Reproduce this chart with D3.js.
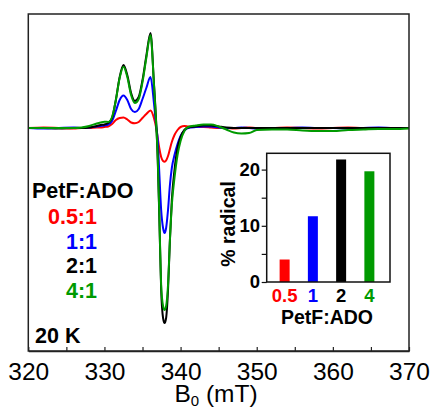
<!DOCTYPE html>
<html>
<head>
<meta charset="utf-8">
<script src="https://cdn.jsdelivr.net/npm/d3@7"></script>
<style>
  body { margin: 0; background: #fff; }
  svg { display: block; font-family: "Liberation Sans", Arial, sans-serif; }
</style>
</head>
<body>
<svg id="chart" width="433" height="409"></svg>
<script>
// field axis (mT), shared by all spectra
const field = [320,322,324,326,327,328,329,329.5,330,330.5,331,331.5,332,332.5,333,333.5,334,334.5,335,335.5,336.05,336.5,336.8,337,337.2,337.45,337.7,337.9,338.1,338.35,338.6,338.85,339.2,339.6,340,340.5,341,342,343,344,345,346,347,348,349,350,352,354,356,358,360,362,364,366,368,370];

// EPR intensity (a.u.) for each PetF:ADO ratio
const red05 = [0,0.005,0,-0.005,0,0,0.005,0.005,0.01,0.015,0.04,0.08,0.10,0.105,0.085,0.055,0.047,0.06,0.10,0.14,0.175,0.10,0,-0.10,-0.20,-0.29,-0.33,-0.337,-0.325,-0.28,-0.21,-0.14,-0.07,-0.02,0.01,0.02,0.015,0.01,0.01,0.005,0,0,-0.005,0,0.005,0,0,0.005,0,-0.005,0,0.005,0,0,0,0];
const blue1 = [0,-0.005,0,0.005,0,0.005,0.015,0.02,0.025,0.035,0.07,0.17,0.28,0.325,0.28,0.19,0.16,0.19,0.29,0.40,0.51,0.25,0.02,-0.12,-0.44,-0.82,-1.00,-1.05,-1.00,-0.82,-0.57,-0.40,-0.27,-0.16,-0.08,-0.025,0,0.01,0.015,0.015,0.005,0,0,0.005,0,-0.005,0,0,0.005,0,0,-0.005,0,0.005,0,0];
const black2 = [0,0,-0.005,0,0,0.005,0.02,0.03,0.035,0.05,0.10,0.28,0.51,0.63,0.53,0.35,0.27,0.31,0.48,0.72,0.95,0.45,0.05,-0.32,-0.87,-1.62,-1.90,-1.95,-1.90,-1.62,-1.12,-0.72,-0.42,-0.20,-0.09,-0.02,0.005,0.015,0.025,0.025,0.015,0.005,0,0,0,0,0,0,0,0,0,0,0,0,0,0];
const green4 = [0,0,0,0,0.005,0.02,0.045,0.055,0.063,0.06,0.11,0.28,0.50,0.613,0.51,0.33,0.25,0.29,0.46,0.70,0.93,0.44,0.04,-0.30,-0.84,-1.57,-1.78,-1.82,-1.78,-1.57,-1.12,-0.77,-0.50,-0.27,-0.13,-0.03,0.01,0.025,0.035,0.035,0.015,-0.015,-0.045,-0.055,-0.05,-0.02,-0.015,-0.015,-0.025,-0.03,-0.03,-0.02,-0.015,-0.01,-0.01,-0.005];

// inset: % radical vs ratio
const ratios = ["0.5", "1", "2", "4"];
const radicalPct = [4.0, 11.7, 21.8, 19.7];
const legendLabels = ["0.5:1", "1:1", "2:1", "4:1"];
const colors = ["#ff0000", "#0000ff", "#000000", "#009a00"];

const svg = d3.select("#chart");

// main panel
const x = d3.scaleLinear().domain([320, 370]).range([28.3, 409]);
const y = d3.scaleLinear().domain([-2.23, 1.14]).range([351, 14]);

const spectra = [red05, blue1, black2, green4];
const line = d3.line()
  .x((d, i) => x(field[i]))
  .y(d => y(d))
  .curve(d3.curveMonotoneX);

svg.selectAll("path.spec")
  .data(spectra)
  .enter()
  .append("path")
  .attr("class", "spec")
  .attr("d", d => line(d))
  .attr("fill", "none")
  .attr("stroke", (d, i) => colors[i])
  .attr("stroke-width", 2);

svg.append("rect")
  .attr("x", x(320)).attr("y", y(1.14))
  .attr("width", x(370) - x(320)).attr("height", y(-2.23) - y(1.14))
  .attr("fill", "none").attr("stroke", "#222").attr("stroke-width", 1.5);

const xAxis = svg.append("g")
  .attr("transform", `translate(0,${y(-2.23)})`)
  .call(d3.axisBottom(x)
    .tickValues(d3.range(320, 371, 5))
    .tickFormat(d => d % 10 === 0 ? d : "")
    .tickSizeInner(-4).tickSizeOuter(0).tickPadding(11.5));
xAxis.select(".domain").attr("stroke", "#222").attr("stroke-width", 1.5);
xAxis.selectAll(".tick line").attr("stroke", "#222").attr("stroke-width", 1.2);
xAxis.selectAll("text").attr("font-size", 24.5).attr("fill", "#000")
  .attr("font-family", "Liberation Sans, Arial, sans-serif");

const xt = svg.append("text")
  .attr("x", 216).attr("y", 402)
  .attr("text-anchor", "middle").attr("font-size", 24.5);
xt.append("tspan").text("B");
xt.append("tspan").attr("font-size", 15).attr("dy", 4).text("0");
xt.append("tspan").attr("dy", -4).text(" (mT)");

// legend
svg.append("text").attr("x", 32).attr("y", 198)
  .attr("font-size", 21.5).attr("font-weight", "bold").text("PetF:ADO");
svg.selectAll("text.leg")
  .data(legendLabels)
  .enter()
  .append("text")
  .attr("class", "leg")
  .attr("x", 97)
  .attr("y", (d, i) => 224 + i * 24.7)
  .attr("text-anchor", "end")
  .attr("font-size", 21.5).attr("font-weight", "bold")
  .attr("fill", (d, i) => colors[i])
  .text(d => d);

svg.append("text").attr("x", 35).attr("y", 343)
  .attr("font-size", 21.5).attr("font-weight", "bold").text("20 K");

// inset bar chart
const ix = d3.scalePoint().domain(ratios).range([270.5, 383.5]).padding(0.5);
const iy = d3.scaleLinear().domain([0, 22.9]).range([282, 153.3]);
const barW = 10;

svg.selectAll("rect.bar")
  .data(radicalPct)
  .enter()
  .append("rect")
  .attr("class", "bar")
  .attr("x", (d, i) => ix(ratios[i]) - barW / 2)
  .attr("y", d => iy(d))
  .attr("width", barW)
  .attr("height", d => iy(0) - iy(d))
  .attr("fill", (d, i) => colors[i]);

svg.append("rect")
  .attr("x", 266.7).attr("y", iy(22.9))
  .attr("width", 390 - 266.7).attr("height", iy(0) - iy(22.9))
  .attr("fill", "none").attr("stroke", "#111").attr("stroke-width", 1.5);

const iyAxis = svg.append("g")
  .attr("transform", "translate(266.7,0)")
  .call(d3.axisLeft(iy)
    .tickValues([0, 5, 10, 15, 20])
    .tickFormat(d => d % 10 === 0 ? d : "")
    .tickSizeInner(5).tickSizeOuter(0).tickPadding(1.7));
iyAxis.select(".domain").remove();
iyAxis.selectAll(".tick line").attr("stroke", "#111").attr("stroke-width", 1.2);
iyAxis.selectAll("text").attr("font-size", 18.5).attr("font-weight", "bold")
  .attr("fill", "#000").attr("font-family", "Liberation Sans, Arial, sans-serif");

svg.append("text")
  .attr("transform", "translate(235,224) rotate(-90)")
  .attr("text-anchor", "middle")
  .attr("font-size", 19.5).attr("font-weight", "bold").text("% radical");

svg.selectAll("text.cat")
  .data(ratios)
  .enter()
  .append("text")
  .attr("class", "cat")
  .attr("x", d => ix(d))
  .attr("y", 302)
  .attr("text-anchor", "middle")
  .attr("font-size", 18.5).attr("font-weight", "bold")
  .attr("fill", (d, i) => colors[i])
  .text(d => d);

svg.append("text").attr("x", 327).attr("y", 324)
  .attr("text-anchor", "middle")
  .attr("font-size", 19.5).attr("font-weight", "bold").text("PetF:ADO");
</script>
</body>
</html>
